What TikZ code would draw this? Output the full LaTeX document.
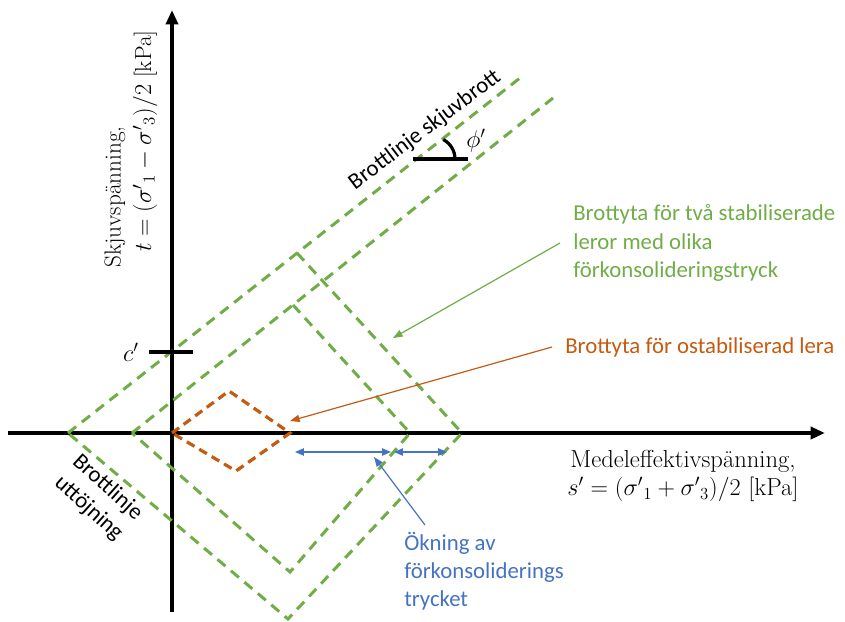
\documentclass[tikz,border=0pt]{standalone}
\usepackage[no-math]{fontspec}
\newfontfamily\calibri{Carlito}
\usetikzlibrary{arrows.meta}

\definecolor{lergron}{RGB}{112,173,71}
\definecolor{lerorange}{RGB}{197,90,17}
\definecolor{okblue}{RGB}{68,114,196}

\tikzset{
  axel/.style={line width=1mm, -{Triangle[length=3.6mm,width=3mm]}},
  brottgron/.style={lergron, line width=0.75mm, dash pattern=on 2.6mm off 1.8mm},
  brottorange/.style={lerorange, line width=0.8mm, dash pattern=on 2.2mm off 1.4mm},
  pil/.style={line width=0.3mm, -{Triangle[length=2.4mm,width=1.8mm]}},
  dubbelpil/.style={okblue, line width=0.35mm, {Triangle[length=2.2mm,width=1.8mm]}-{Triangle[length=2.2mm,width=1.8mm]}},
  markering/.style={line width=1mm},
  etikett/.style={font=\calibri\fontsize{16.2}{20}\selectfont, align=left, inner ysep=0pt},
  axeltext/.style={font=\fontsize{16.5}{20}\selectfont, inner sep=0pt}
}

\begin{document}
\begin{tikzpicture}[x=0.25mm, y=-0.25mm]
    \useasboundingbox (0,0) rectangle (845,622) ;

    % axlar
    \draw [axel] (8,433) -- (825,433) ;
    \draw [axel] (172,612) -- (172,10) ;

    % brottytor, stabiliserade
    \coordinate (yv) at (68,433) ;
    \coordinate (yt) at (297,253) ;
    \coordinate (yh) at (462,433) ;
    \coordinate (yb) at (288,619) ;
    \coordinate (iv) at (132,433) ;
    \coordinate (it) at (293,305) ;
    \coordinate (ih) at (410,433) ;
    \coordinate (ib) at (290,572) ;
    \draw [brottgron] (yv) -- (520,78) ;
    \draw [brottgron] (yt) -- (yh) -- (yb) -- (yv) ;
    \draw [brottgron] (iv) -- (553,98) ;
    \draw [brottgron] (it) -- (ih) -- (ib) -- (iv) ;

    % brottyta, ostabiliserad
    \coordinate (ov) at (172,433) ;
    \coordinate (ot) at (229,391) ;
    \coordinate (oh) at (290,433) ;
    \coordinate (ob) at (236,471) ;
    \draw [brottorange] (ov) -- (ot) -- (oh) -- (ob) -- cycle ;

    % c' och phi'
    \draw [markering] (149,352) -- (193,352) ;
    \node [axeltext] (cprim) at (131,352) {$c'$} ;
    \draw [markering] (413,159) -- (468,159) ;
    \draw [line width=0.8mm] (455,159) arc [start angle=0, end angle=-62, radius=22] ;
    \node [axeltext] (phiprim) at (476,141) {$\phi'$} ;

    % axeltexter
    \node [axeltext, rotate=90, anchor=west] (ytext1) at (115,268) {Skjuvspänning,} ;
    \node [axeltext, rotate=90, anchor=west] (ytext2) at (145,252) {$t = ({\sigma'}_1 - {\sigma'}_3)/2$ [kPa]} ;
    \node [axeltext, align=center, font=\fontsize{17.5}{20}\selectfont] (xtext) at (683,476)
        {Medeleffektivspänning,\\$s' = ({\sigma'}_1 + {\sigma'}_3)/2$ [kPa]} ;

    % linjetexter
    \node [etikett, rotate=37, align=center] (skjuvbrott) at (425,130) {Brottlinje skjuvbrott} ;
    \node [etikett, rotate=-42, align=center] (uttojning) at (98,498) {Brottlinje\\uttöjning} ;

    % forklaringar
    \node [etikett, lergron, anchor=west, inner xsep=3.25mm] (grontext) at (560,243)
        {Brottyta för två stabiliserade\\leror med olika\\förkonsolideringstryck} ;
    \coordinate (gronspets) at (393,338) ;
    \draw [pil, lergron] (grontext.west) -- (gronspets) ;

    \node [etikett, lerorange, anchor=west, inner xsep=3.25mm] (orangetext) at (552,347)
        {Brottyta för ostabiliserad lera} ;
    \coordinate (orangespets) at (290,421) ;
    \draw [pil, lerorange] (orangetext.west) -- (orangespets) ;

    % okning
    \coordinate (d1) at (295,452) ;
    \coordinate (d2) at (391,452) ;
    \coordinate (d3) at (394,452) ;
    \coordinate (d4) at (447,452) ;
    \draw [dubbelpil] (d1) -- (d2) ;
    \draw [dubbelpil] (d3) -- (d4) ;
    \node [etikett, okblue, anchor=north west, inner sep=0pt] (blatext) at (404,532)
        {Ökning av\\förkonsoliderings\\trycket} ;
    \coordinate (blastart) at (425,525) ;
    \coordinate (blaspets) at (374,457) ;
    \draw [pil, okblue] (blastart) -- (blaspets) ;
\end{tikzpicture}
\end{document}
